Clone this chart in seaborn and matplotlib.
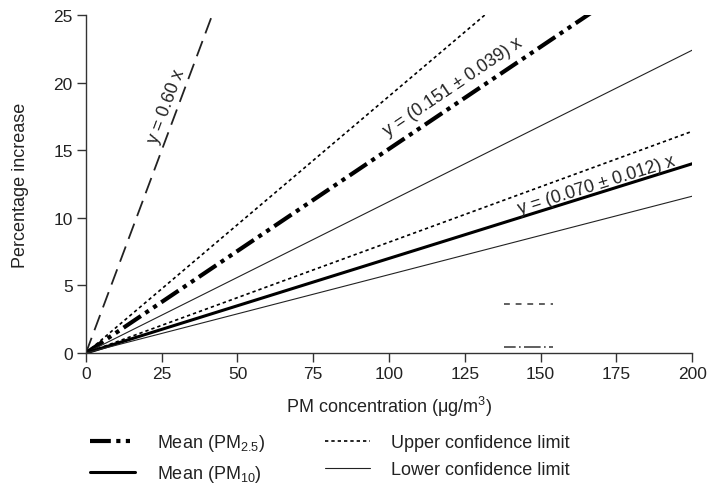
import numpy as np
import pandas as pd
import matplotlib
matplotlib.use("Agg")
import matplotlib.pyplot as plt
import seaborn as sns
from matplotlib.lines import Line2D

# slopes (percentage increase per ug/m3)
x_range = [0, 200]
slope_ref = 0.60
slope_pm25 = 0.151
slope_pm25_upper = 0.190
slope_pm25_lower = 0.112
slope_pm10 = 0.070
slope_pm10_upper = 0.082
slope_pm10_lower = 0.058

# stray key fragments left inside the plot area
stray_x = [138, 154]
stray_dash_y = [3.6, 3.6]
stray_dashdot_y = [0.45, 0.45]

label_ref = "y = 0.60 x"
label_pm25 = "y = (0.151 ± 0.039) x"
label_pm10 = "y = (0.070 ± 0.012) x"
legend_labels = ["Mean (PM$_{2.5}$)", "Mean (PM$_{10}$)",
                 "Upper confidence limit", "Lower confidence limit"]

sns.set_theme(style="ticks")
plt.rcParams['font.family'] = ['Liberation Sans', 'DejaVu Sans']
plt.rcParams['mathtext.fontset'] = 'custom'
plt.rcParams['mathtext.rm'] = 'Liberation Sans'
plt.rcParams['mathtext.it'] = 'Liberation Sans'

ink = "#222222"
fig = plt.figure(figsize=(7.1, 4.85), dpi=100)
ax = fig.add_axes([0.121, 0.270, 0.854, 0.697])

xs = np.array(x_range, dtype=float)

def draw(slope, ls, lw, color="black"):
    d = pd.DataFrame({"x": xs, "y": slope * xs})
    sns.lineplot(data=d, x="x", y="y", ax=ax, color=color, lw=lw, linestyle=ls)

dashdotdot = (0, (5, 1.3, 1, 1.3, 1, 1.3))
dotted = (0, (2.0, 1.8))

draw(slope_ref, (0, (9, 4.5)), 1.3, color="#222222")
draw(slope_pm25_upper, dotted, 1.2)
draw(slope_pm25, dashdotdot, 3.0)
draw(slope_pm25_lower, "-", 0.8, color="#222222")
draw(slope_pm10_upper, dotted, 1.2)
draw(slope_pm10, "-", 2.2)
draw(slope_pm10_lower, "-", 0.8, color="#222222")

sns.lineplot(x=stray_x, y=stray_dash_y, ax=ax, color="#444444", lw=1.2,
             linestyle=(0, (3.5, 3.5)))
sns.lineplot(x=stray_x, y=stray_dashdot_y, ax=ax, color="#444444", lw=1.2,
             linestyle=(0, (7, 2, 1, 2, 3, 0)))

ax.set_xlim(0, 200)
ax.set_ylim(0, 25)
ax.set_xticks([0, 25, 50, 75, 100, 125, 150, 175, 200])
ax.set_yticks([0, 5, 10, 15, 20, 25])
ax.tick_params(labelsize=12.5, length=6.5, width=1, pad=3, color="#333333", labelcolor=ink)
for s in ["left", "bottom"]:
    ax.spines[s].set_linewidth(1)
    ax.spines[s].set_color("#333333")
sns.despine(ax=ax)
ax.set_xlabel("PM concentration ($\\mu$g/m$^3$)", fontsize=13, color=ink)
ax.set_ylabel("Percentage increase", fontsize=13, color=ink)
ax.xaxis.set_label_coords(0.5, -0.157)
ax.xaxis.label.set_va("center")
ax.yaxis.set_label_coords(-0.108, 0.5)
ax.yaxis.label.set_va("center")

# labels along the lines (rotation in screen space)
def screen_angle(slope):
    p0 = ax.transData.transform((0, 0))
    p1 = ax.transData.transform((10, 10 * slope))
    return np.degrees(np.arctan2(p1[1] - p0[1], p1[0] - p0[0]))

for (tx, ty, txt, sl) in [(26.7, 18.3, label_ref, slope_ref),
                          (121, 19.7, label_pm25, slope_pm25),
                          (168.3, 12.5, label_pm10, slope_pm10)]:
    ax.text(tx, ty, txt, rotation=screen_angle(sl), ha="center", va="center",
            fontsize=12.8, color=ink, rotation_mode="anchor")

handles = [
    Line2D([], [], color="black", lw=3.0, linestyle=dashdotdot),
    Line2D([], [], color="black", lw=2.2, linestyle="-"),
    Line2D([], [], color="black", lw=1.2, linestyle=dotted),
    Line2D([], [], color="#222222", lw=0.8, linestyle="-"),
]
fig.legend(handles, legend_labels, ncol=2, loc="lower left", bbox_to_anchor=(0.104, -0.034),
           frameon=False, fontsize=13, handlelength=2.5, handletextpad=1.2,
           columnspacing=3.3, labelspacing=0.55, labelcolor=ink)

fig.savefig("out.png", dpi=100)
